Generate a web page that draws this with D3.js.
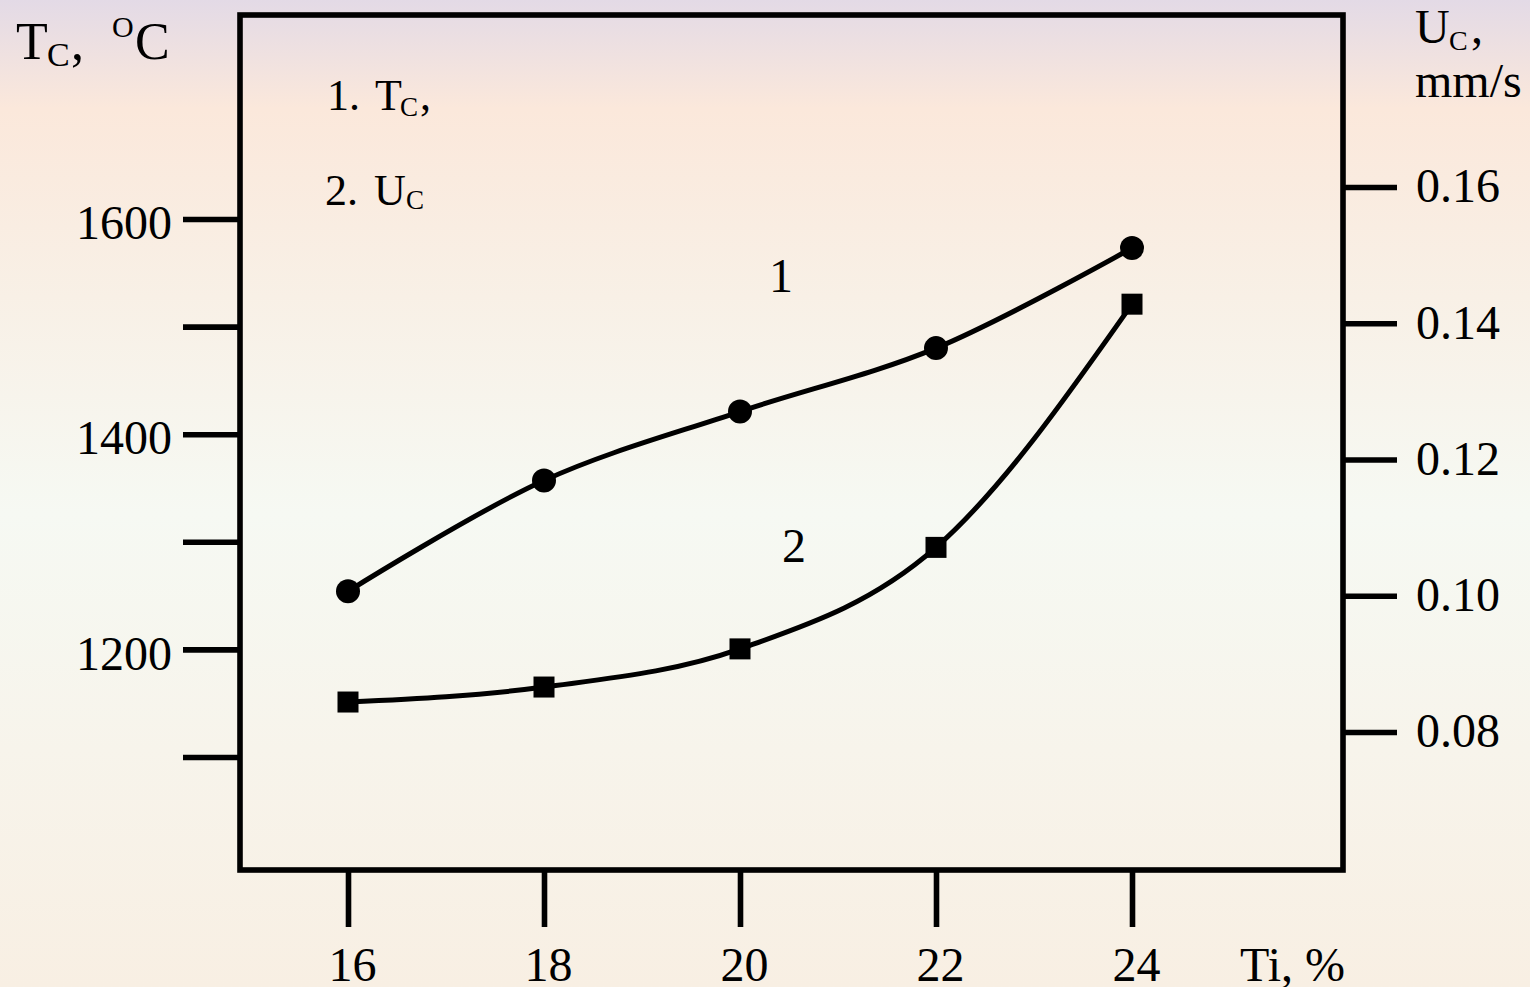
<!DOCTYPE html>
<html>
<head>
<meta charset="utf-8">
<script src="https://cdn.jsdelivr.net/npm/d3@7"></script>
<style>
  html, body { margin: 0; padding: 0; background: #f7f4ee; }
  svg { display: block; }
  text { font-family: "Liberation Serif", "Times New Roman", serif; fill: #000; }
</style>
</head>
<body>
<svg id="chart" width="1530" height="987"></svg>
<script>
// ---- data ----
const tiPercent = [16, 18, 20, 22, 24];
const tcValues = [1254, 1357, 1421, 1480, 1573];       // curve 1, T_C (°C), left axis
const ucValues = [0.0844, 0.0866, 0.0922, 0.1071, 0.1428]; // curve 2, U_C (mm/s), right axis
const xTicks = [16, 18, 20, 22, 24];
const leftTicks = [1100, 1200, 1300, 1400, 1500, 1600];
const leftTickLabels = ["", "1200", "", "1400", "", "1600"];
const rightTicks = [0.08, 0.10, 0.12, 0.14, 0.16];
const rightTickLabels = ["0.08", "0.10", "0.12", "0.14", "0.16"];
const curveLabels = ["1", "2"];

const svg = d3.select("#chart");
const W = 1530, H = 987;
const box = {left: 240, top: 15, right: 1343, bottom: 870};

// background gradient
const defs = svg.append("defs");
const grad = defs.append("linearGradient").attr("id", "bg").attr("x1", 0).attr("y1", 0).attr("x2", 0).attr("y2", 1);
[["0%", "#e3dae6"], ["11%", "#fbe8db"], ["30%", "#f8f0e6"], ["52%", "#f6f9f3"], ["100%", "#f8efe3"]]
  .forEach(([o, c]) => grad.append("stop").attr("offset", o).attr("stop-color", c));
svg.append("rect").attr("width", W).attr("height", H).attr("fill", "url(#bg)");

// scales
const x = d3.scaleLinear().domain([16, 24]).range([348, 1132]);
const yL = d3.scaleLinear().domain([1100, 1600]).range([757, 219]);
const yR = d3.scaleLinear().domain([0.08, 0.16]).range([732, 187]);

const SW = 5.6;

// left axis
const gL = svg.append("g").attr("transform", `translate(${box.left},0)`)
  .call(d3.axisLeft(yL).tickValues(leftTicks).tickSize(57).tickSizeOuter(0).tickPadding(11)
    .tickFormat((d, i) => leftTickLabels[i]));
gL.select(".domain").remove();
gL.selectAll(".tick line").attr("stroke", "#000").attr("stroke-width", SW);
gL.selectAll(".tick text").attr("font-size", 48).attr("dy", "0.41em")
  .attr("font-family", "Liberation Serif").attr("fill", "#000");

// right axis
const gR = svg.append("g").attr("transform", `translate(${box.right},0)`)
  .call(d3.axisRight(yR).tickValues(rightTicks).tickSize(54).tickSizeOuter(0).tickPadding(19)
    .tickFormat((d, i) => rightTickLabels[i]));
gR.select(".domain").remove();
gR.selectAll(".tick line").attr("stroke", "#000").attr("stroke-width", SW);
gR.selectAll(".tick text").attr("font-size", 48).attr("dy", "0.31em")
  .attr("font-family", "Liberation Serif").attr("fill", "#000");

// bottom axis
const gB = svg.append("g").attr("transform", `translate(0,${box.bottom})`)
  .call(d3.axisBottom(x).tickValues(xTicks).tickSize(57).tickSizeOuter(0).tickFormat(d3.format("d")));
gB.select(".domain").remove();
gB.selectAll(".tick line").attr("stroke", "#000").attr("stroke-width", SW);
gB.selectAll(".tick text").attr("font-size", 48).attr("y", 111).attr("dy", 0).attr("x", 4)
  .attr("font-family", "Liberation Serif").attr("fill", "#000");

// frame
svg.append("rect")
  .attr("x", box.left).attr("y", box.top)
  .attr("width", box.right - box.left).attr("height", box.bottom - box.top)
  .attr("fill", "none").attr("stroke", "#000").attr("stroke-width", SW);

// curves
const line1 = d3.line().x((d, i) => x(tiPercent[i])).y(d => yL(d)).curve(d3.curveCatmullRom.alpha(0.5));
const line2 = d3.line().x((d, i) => x(tiPercent[i])).y(d => yR(d)).curve(d3.curveMonotoneX);

svg.append("path").datum(tcValues).attr("d", line1)
  .attr("fill", "none").attr("stroke", "#000").attr("stroke-width", 5).attr("stroke-linecap", "round");
svg.append("path").datum(ucValues).attr("d", line2)
  .attr("fill", "none").attr("stroke", "#000").attr("stroke-width", 5).attr("stroke-linecap", "round");

svg.selectAll("circle.m").data(tcValues).enter().append("circle")
  .attr("class", "m")
  .attr("cx", (d, i) => x(tiPercent[i])).attr("cy", d => yL(d)).attr("r", 12).attr("fill", "#000");

const sq = 21;
svg.selectAll("rect.m").data(ucValues).enter().append("rect")
  .attr("class", "m")
  .attr("x", (d, i) => x(tiPercent[i]) - sq / 2).attr("y", d => yR(d) - sq / 2)
  .attr("width", sq).attr("height", sq).attr("fill", "#000");

// curve labels
svg.append("text").attr("x", 781).attr("y", 292).attr("text-anchor", "middle").attr("font-size", 48).text(curveLabels[0]);
svg.append("text").attr("x", 794).attr("y", 562).attr("text-anchor", "middle").attr("font-size", 48).text(curveLabels[1]);

// legend
const lg1 = svg.append("text").attr("font-size", 44);
lg1.append("tspan").attr("x", 327).attr("y", 110).text("1.");
lg1.append("tspan").attr("x", 375).attr("y", 110).text("T");
lg1.append("tspan").attr("x", 400).attr("y", 116).attr("font-size", 27).text("C");
lg1.append("tspan").attr("x", 420).attr("y", 110).text(",");

const lg2 = svg.append("text").attr("font-size", 44);
lg2.append("tspan").attr("x", 325).attr("y", 205).text("2.");
lg2.append("tspan").attr("x", 374).attr("y", 205).text("U");
lg2.append("tspan").attr("x", 406).attr("y", 209).attr("font-size", 27).text("C");

// left axis title
const tL = svg.append("text").attr("font-size", 52);
tL.append("tspan").attr("x", 16).attr("y", 59).text("T");
tL.append("tspan").attr("x", 47).attr("y", 66).attr("font-size", 34).text("C");
tL.append("tspan").attr("x", 71).attr("y", 59).text(",");
tL.append("tspan").attr("x", 112).attr("y", 37).attr("font-size", 30).text("O");
tL.append("tspan").attr("x", 135).attr("y", 59).text("C");

// right axis title
const tR = svg.append("text").attr("font-size", 48);
tR.append("tspan").attr("x", 1415).attr("y", 43).text("U");
tR.append("tspan").attr("x", 1449).attr("y", 50).attr("font-size", 28).text("C");
tR.append("tspan").attr("x", 1471).attr("y", 43).text(",");
svg.append("text").attr("x", 1415).attr("y", 97).attr("font-size", 48).text("mm/s");

// x axis title
svg.append("text").attr("x", 1240).attr("y", 981).attr("font-size", 48).text("Ti, %");
</script>
</body>
</html>
